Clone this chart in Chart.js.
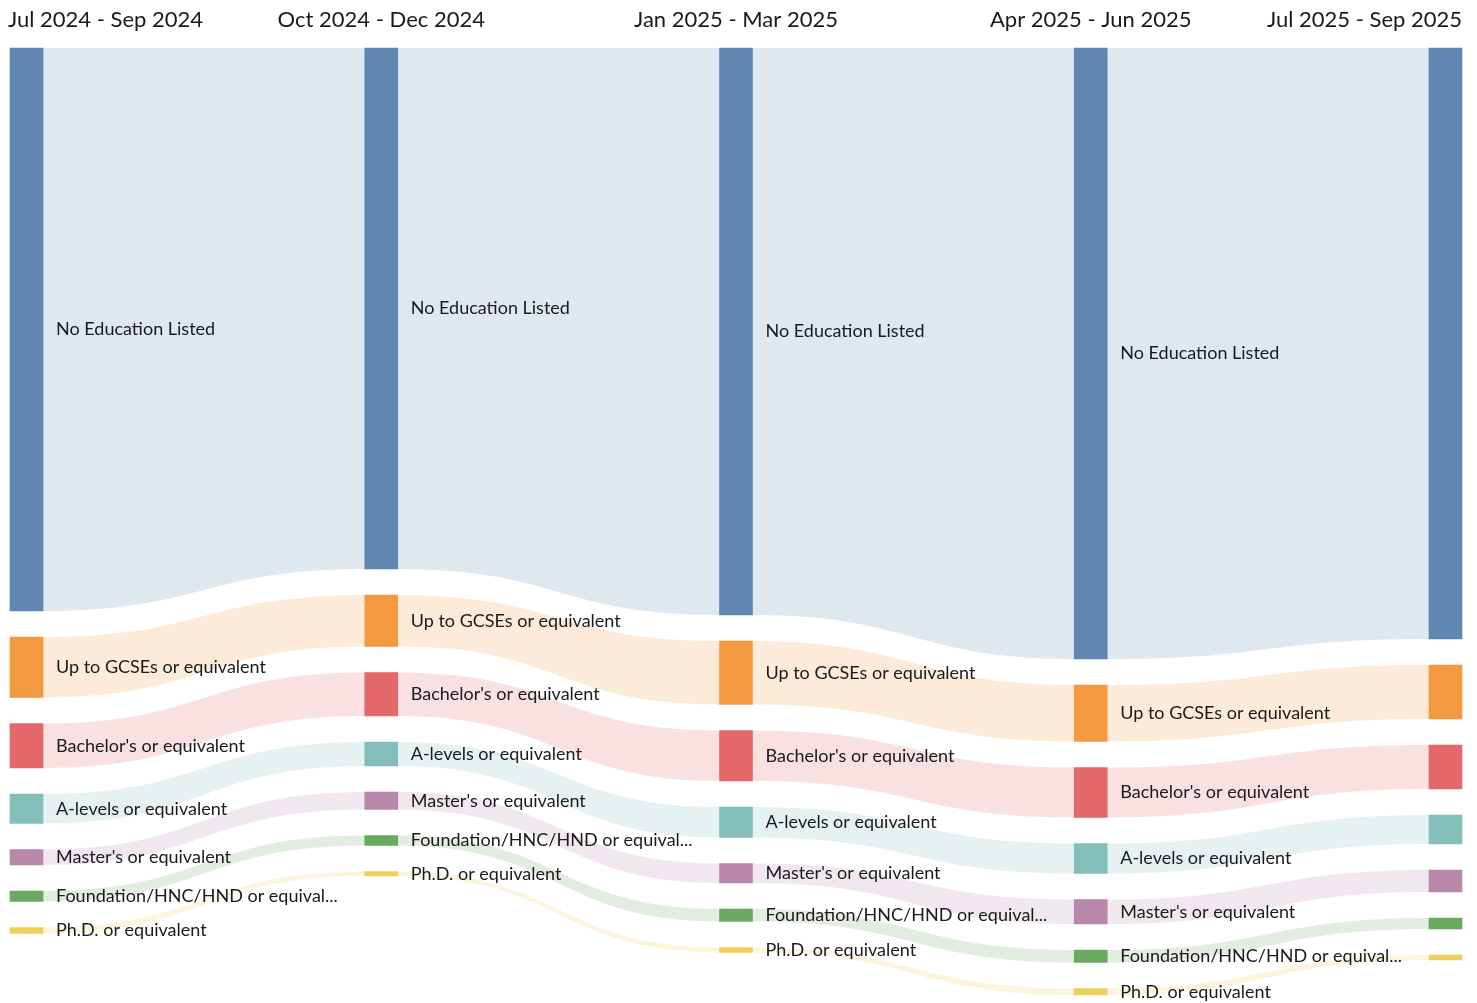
<!DOCTYPE html>
<html lang="en">
<head>
<meta charset="utf-8">
<title>Education level flow</title>
<script src="https://cdn.jsdelivr.net/npm/chart.js@4.4.1/dist/chart.umd.min.js"></script>
<style>
    html, body { margin: 0; padding: 0; background: #ffffff; }
    #wrap { position: relative; width: 1477px; height: 1003px; }
</style>
</head>
<body>
<div id="wrap"><canvas id="flow-chart"></canvas></div>
<script>
// Periodos (columnas)
const periods = ['Jul 2024 - Sep 2024', 'Oct 2024 - Dec 2024', 'Jan 2025 - Mar 2025', 'Apr 2025 - Jun 2025', 'Jul 2025 - Sep 2025'];

// Categorias en el orden de apilado
const categories = [
    'No Education Listed',
    'Up to GCSEs or equivalent',
    "Bachelor's or equivalent",
    'A-levels or equivalent',
    "Master's or equivalent",
    'Foundation/HNC/HND or equivalent',
    'Ph.D. or equivalent'
];

// Valores por periodo
const noEducation = [1126, 1042, 1134, 1222, 1182];
const upToGcses   = [121, 103, 127, 113, 108];
const bachelors   = [89, 87, 101, 100, 88];
const aLevels     = [59, 48, 61, 60, 58];
const masters     = [31, 35, 39, 49, 44];
const foundation  = [21, 20, 25, 25, 22];
const phd         = [12, 9, 10, 13, 10];

const series = [noEducation, upToGcses, bachelors, aLevels, masters, foundation, phd];

// Tableau 10
const baseColors = [
    [78, 121, 167],
    [242, 142, 43],
    [225, 87, 89],
    [118, 183, 178],
    [176, 122, 161],
    [89, 161, 79],
    [237, 201, 72]
];

const Y_MAX = 1910;
const NODE_GAP = 52;
const FONT = 'Lato, "Open Sans", sans-serif';

(function() {
    'use strict';

    /**
     * Apilar nodos por columna con separacion fija
     */
    function buildRanges() {
        const ranges = series.map(() => []);
        periods.forEach((p, i) => {
            let cursor = 0;
            series.forEach((values, c) => {
                ranges[c].push([cursor, cursor + values[i]]);
                cursor += values[i] + NODE_GAP;
            });
        });
        return ranges;
    }

    function shortLabel(text) {
        return text.length > 30 ? text.slice(0, 29) + '...' : text;
    }

    const ranges = buildRanges();

    /**
     * Bandas curvas entre nodos de la misma categoria
     */
    const flowPlugin = {
        id: 'flows',
        beforeDatasetsDraw(chart) {
            const ctx = chart.ctx;
            ctx.save();
            series.forEach((values, c) => {
                const meta = chart.getDatasetMeta(c);
                const rgb = baseColors[c];
                ctx.fillStyle = `rgba(${rgb[0]}, ${rgb[1]}, ${rgb[2]}, 0.18)`;
                for (let i = 0; i < periods.length - 1; i++) {
                    const a = meta.data[i];
                    const b = meta.data[i + 1];
                    const x0 = a.x + a.width / 2;
                    const x1 = b.x - b.width / 2;
                    const xm = (x0 + x1) / 2;
                    const top0 = Math.min(a.y, a.base), bot0 = Math.max(a.y, a.base);
                    const top1 = Math.min(b.y, b.base), bot1 = Math.max(b.y, b.base);
                    ctx.beginPath();
                    ctx.moveTo(x0, top0);
                    ctx.bezierCurveTo(xm, top0, xm, top1, x1, top1);
                    ctx.lineTo(x1, bot1);
                    ctx.bezierCurveTo(xm, bot1, xm, bot0, x0, bot0);
                    ctx.closePath();
                    ctx.fill();
                }
            });
            ctx.restore();
        }
    };

    /**
     * Etiquetas de nodos y cabeceras de periodo
     */
    const labelPlugin = {
        id: 'nodeLabels',
        afterDatasetsDraw(chart) {
            const ctx = chart.ctx;
            const xScale = chart.scales.x;
            ctx.save();
            ctx.fillStyle = '#1a1a1a';
            ctx.textBaseline = 'middle';

            // Cabeceras
            ctx.font = `22px ${FONT}`;
            periods.forEach((p, i) => {
                const meta = chart.getDatasetMeta(0).data[i];
                let x = xScale.getPixelForValue(i);
                if (i === 0) {
                    ctx.textAlign = 'left';
                    x = meta.x - meta.width / 2 - 2;
                } else if (i === periods.length - 1) {
                    ctx.textAlign = 'right';
                    x = meta.x + meta.width / 2;
                } else {
                    ctx.textAlign = 'center';
                }
                ctx.fillText(p, x, 20);
            });

            // Nodos (la ultima columna no lleva etiqueta)
            ctx.font = `18px ${FONT}`;
            ctx.textAlign = 'left';
            categories.forEach((name, c) => {
                const meta = chart.getDatasetMeta(c);
                for (let i = 0; i < periods.length - 1; i++) {
                    const bar = meta.data[i];
                    const x = bar.x + bar.width / 2 + 13;
                    const y = (bar.y + bar.base) / 2;
                    ctx.fillText(shortLabel(name), x, y);
                }
            });
            ctx.restore();
        }
    };

    const ctx = document.getElementById('flow-chart').getContext('2d');

    new Chart(ctx, {
        type: 'bar',
        data: {
            labels: periods,
            datasets: categories.map((name, c) => ({
                label: name,
                data: ranges[c],
                backgroundColor: `rgba(${baseColors[c][0]}, ${baseColors[c][1]}, ${baseColors[c][2]}, 0.9)`,
                borderWidth: 0,
                barThickness: 33,
                grouped: false,
                clip: false
            }))
        },
        options: {
            responsive: true,
            maintainAspectRatio: false,
            animation: false,
            layout: {
                padding: { left: 26.5, right: 31.5, top: 48, bottom: 0 }
            },
            plugins: {
                legend: { display: false },
                tooltip: { enabled: false }
            },
            scales: {
                x: {
                    type: 'category',
                    offset: false,
                    display: false
                },
                y: {
                    type: 'linear',
                    reverse: true,
                    min: 0,
                    max: Y_MAX,
                    display: false
                }
            }
        },
        plugins: [flowPlugin, labelPlugin]
    });
})();
</script>
</body>
</html>
